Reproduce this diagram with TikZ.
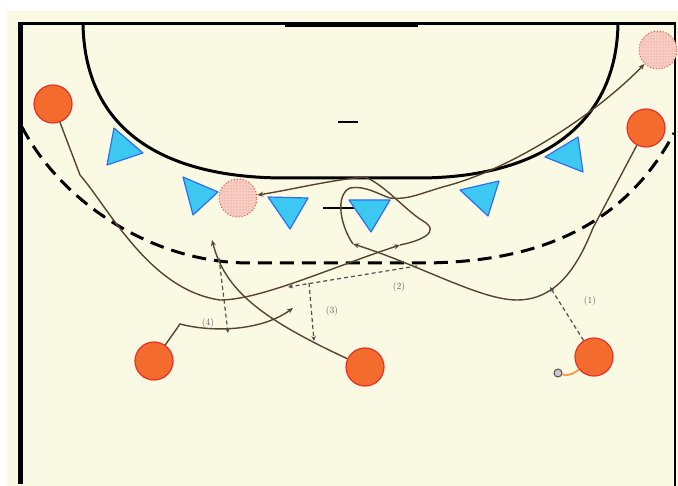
\documentclass[tikz,border=0pt]{standalone}
\usetikzlibrary{arrows.meta,patterns}
\definecolor{cream}{RGB}{250,249,228}
\definecolor{attfill}{RGB}{243,108,45}
\definecolor{attedge}{RGB}{232,48,40}
\definecolor{deffill}{RGB}{60,200,240}
\definecolor{defedge}{RGB}{48,110,240}
\definecolor{runcol}{RGB}{88,68,45}
\definecolor{passcol}{RGB}{80,80,80}
\definecolor{ghostfill}{RGB}{248,205,195}
\definecolor{ghostdot}{RGB}{225,80,70}
\definecolor{balltail}{RGB}{245,160,80}
\definecolor{ballfill}{RGB}{200,200,210}
\tikzset{
  att/.style={circle,minimum size=38pt,inner sep=0pt,fill=attfill,draw=attedge,line width=1.2pt},
  ghost/.style={circle,minimum size=38pt,inner sep=0pt,fill=ghostfill,draw=ghostdot,dotted,line width=1pt,postaction={pattern=dots,pattern color=ghostdot!80}},
  defender/.style={fill=deffill,draw=defedge,line width=1.2pt,line join=round},
  run/.style={draw=runcol,line width=1.4pt,-{Stealth[length=6pt,width=5pt]}},
  pass/.style={draw=passcol,line width=1.2pt,dash pattern=on 4pt off 3pt,-{Stealth[length=5pt,width=4.5pt]}},
  courtline/.style={draw=black,line width=3pt},
  ballst/.style={circle,minimum size=8pt,inner sep=0pt,fill=ballfill,draw=passcol,line width=1pt},
  lbl/.style={font=\fontsize{9.5}{10}\selectfont,text=passcol!90,inner sep=0pt},
}
\begin{document}
\begin{tikzpicture}[x=1pt,y=-1pt]
\useasboundingbox (0,0) rectangle (678,486);
\fill[white] (0,0) rectangle (678,486);
\fill[cream] (7,11) rectangle (678,486);
% court
\draw[courtline] (18.5,24) -- (676,24);
\draw[draw=black,line width=5pt] (285,25) -- (418,25);
\draw[draw=black,line width=5pt] (20,22) -- (20,484);
\draw[draw=black,line width=2.5pt] (675,23) -- (675,486);
\draw[courtline] (83,24) .. controls (85,135) and (170,178) .. (285,178) -- (418,178) .. controls (533,178) and (616,130) .. (618,24);
\draw[courtline,dash pattern=on 14pt off 8pt] (22,127) .. controls (60,200) and (150,263) .. (250,263) -- (420,263) .. controls (540,263) and (625,225) .. (674,133);
\draw[draw=black,line width=2.5pt] (338,122) -- (358,122);
\draw[draw=black,line width=2.5pt] (323,208) -- (355,208);
% defenders
\path[defender] (114,128) -- (143,153) -- (107,165) -- cycle;
\path[defender] (183,177) -- (218,192) -- (193,215) -- cycle;
\path[defender] (268,197) -- (308,198) -- (290,229) -- cycle;
\path[defender] (349,200) -- (390,200) -- (371,232) -- cycle;
\path[defender] (460,190) -- (499,181) -- (488,216) -- cycle;
\path[defender] (545,157) -- (578,137) -- (583,172) -- cycle;
% players
\node[att] (A1) at (53,104) {};
\node[att] (A2) at (646,128) {};
\node[att] (A3) at (154,361) {};
\node[att] (A4) at (365,367) {};
\node[att] (A5) at (594,357) {};
\node[ghost] (G1) at (238,198) {};
\node[ghost] (G2) at (658,50) {};
\node[ballst] (ball) at (558,373) {};
\draw[draw=balltail,line width=2pt] (ball) .. controls (570,377) and (577,371) .. (A5);
% named points
\coordinate (m1) at (400,245);
\coordinate (m2) at (353,244);
\coordinate (e3) at (293,308);
\coordinate (e4) at (212,240);
\coordinate (p1e) at (550,287);
\coordinate (p2s) at (417,266);
\coordinate (p2e) at (288,287);
\coordinate (p3s) at (309,283);
\coordinate (p3e) at (314,341);
\coordinate (p4s) at (219,258);
\coordinate (p4e) at (228,333);
% runs
\draw[run] (A1) -- (80,175) .. controls (110,210) and (150,290) .. (220,300) .. controls (260,300) and (330,268) .. (m1);
\draw[run] (m1) .. controls (420,241) and (442,232) .. (423,221) .. controls (405,210) and (385,185) .. (365,177) .. controls (330,180) and (290,190) .. (G1);
\draw[run] (A2) -- (593,228) .. controls (580,260) and (560,300) .. (517,300) .. controls (480,300) and (420,265) .. (m2);
\draw[run] (m2) .. controls (340,225) and (335,195) .. (350,188) .. controls (365,185) and (380,195) .. (390,198) .. controls (410,200) and (420,193) .. (450,185) .. controls (520,165) and (600,110) .. (G2);
\draw[run] (A3) -- (180,324) .. controls (210,332) and (260,332) .. (e3);
\draw[run] (A4) .. controls (260,318) and (225,290) .. (e4);
% passes
\draw[pass] (A5) -- (p1e);
\draw[pass] (p2s) -- (p2e);
\draw[pass] (p3s) -- (p3e);
\draw[pass] (p4s) -- (p4e);
% labels
\node[lbl] (L1) at (590,301) {(1)};
\node[lbl] (L2) at (399,287) {(2)};
\node[lbl] (L3) at (332,311) {(3)};
\node[lbl] (L4) at (208,323) {(4)};
\end{tikzpicture}
\end{document}
